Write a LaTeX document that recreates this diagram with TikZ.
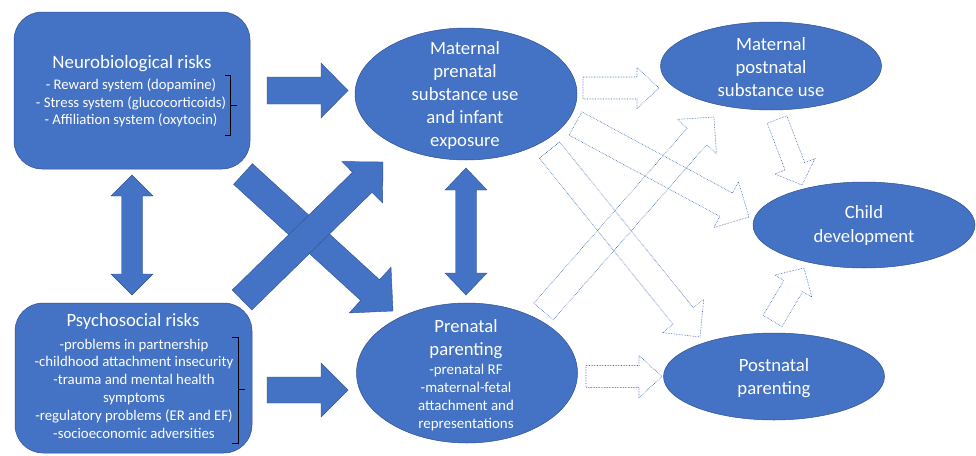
\documentclass[tikz,border=0pt]{standalone}
\usepackage{fontspec}
\setmainfont{Carlito}
\usetikzlibrary{calc,shapes.geometric}
\definecolor{ofblue}{HTML}{4472C4}
\definecolor{ofedge}{HTML}{2F528F}
\definecolor{dotblue}{HTML}{3560AE}
\newcommand{\fsz}[2]{\fontsize{#1}{#2}\selectfont}
% single block arrow: #1 style, #2 tail, #3 tip, #4 half shaft, #5 half head, #6 head length
\newcommand{\blkarrow}[6]{%
  \path ($(#3)!#6pt!(#2)$) coordinate (tmpH);
  \draw[#1] ($(#2)!#4pt!90:(#3)$) -- ($(tmpH)!#4pt!90:(#3)$) -- ($(tmpH)!#5pt!90:(#3)$)
    -- (#3) -- ($(tmpH)!#5pt!-90:(#3)$) -- ($(tmpH)!#4pt!-90:(#3)$) -- ($(#2)!#4pt!-90:(#3)$) -- cycle;}
% double block arrow: #1 style, #2 tip A, #3 tip B, #4 half shaft, #5 half head, #6 head length
\newcommand{\dblarrow}[6]{%
  \path ($(#2)!#6pt!(#3)$) coordinate (tmpHA) ($(#3)!#6pt!(#2)$) coordinate (tmpHB);
  \draw[#1] (#2) -- ($(tmpHA)!#5pt!90:(#3)$) -- ($(tmpHA)!#4pt!90:(#3)$) -- ($(tmpHB)!#4pt!-90:(#2)$)
    -- ($(tmpHB)!#5pt!-90:(#2)$) -- (#3) -- ($(tmpHB)!#5pt!90:(#2)$) -- ($(tmpHB)!#4pt!90:(#2)$)
    -- ($(tmpHA)!#4pt!-90:(#3)$) -- ($(tmpHA)!#5pt!-90:(#3)$) -- cycle;}
\begin{document}
\begin{tikzpicture}[x=1pt,y=-1pt,
  box/.style={draw=ofedge, line width=0.5pt, fill=ofblue, rounded corners=28pt, inner sep=0pt},
  blob/.style={ellipse, draw=ofedge, line width=0.5pt, fill=ofblue, inner sep=0pt},
  txt/.style={text=white, align=center, inner sep=0pt},
  solidarrow/.style={draw=ofedge, line width=0.4pt, fill=ofblue, line join=miter},
  dotarrow/.style={draw=dotblue, line width=0.6pt, densely dotted, line join=miter},
  brk/.style={draw=black, line width=0.7pt}]
\useasboundingbox (0,0) rectangle (976,455);

% boxes
\node[box, minimum width=236pt, minimum height=157pt] (nb) at (132,90.5) {};
\node[box, minimum width=237pt, minimum height=150pt] (ps) at (133.5,378) {};

% ellipses
\node[blob, minimum width=222pt, minimum height=132pt] (mp) at (466,94) {};
\node[blob, minimum width=221pt, minimum height=140pt] (pp) at (467,373) {};
\node[blob, minimum width=221pt, minimum height=88pt] (mpo) at (771,66) {};
\node[blob, minimum width=222pt, minimum height=86pt] (cd) at (864,225) {};
\node[blob, minimum width=221pt, minimum height=87pt] (po) at (774,376.5) {};

% texts
\node[txt, font=\fsz{18.9}{22}] (nbt) at (132,64) {Neurobiological risks};
\node[txt, font=\fsz{14.7}{17.6}] (nbi) at (131,103) {- Reward system (dopamine)\\- Stress system (glucocorticoids)\\- Affiliation system (oxytocin)};
\node[txt, font=\fsz{18.7}{22}] (pst) at (133,322) {Psychosocial risks};
\node[txt, font=\fsz{14.8}{17.8}] (psi) at (134,388.5) {-problems in partnership\\-childhood attachment insecurity\\-trauma and mental health\\symptoms\\-regulatory problems (ER and EF)\\-socioeconomic adversities};
\node[txt, font=\fsz{18.7}{23}] (mpt) at (465,95.5) {Maternal\\prenatal\\substance use\\and infant\\exposure};
\node[txt, font=\fsz{18.7}{23}] (ppt) at (466,339) {Prenatal\\parenting};
\node[txt, font=\fsz{14.9}{18}] (ppi) at (466,398) {-prenatal RF\\-maternal-fetal\\attachment and\\representations};
\node[txt, font=\fsz{18.7}{23}] (mpot) at (771,67.5) {Maternal\\postnatal\\substance use};
\node[txt, font=\fsz{18.7}{24}] (cdt) at (864,226) {Child\\development};
\node[txt, font=\fsz{18.7}{23}] (pot) at (774,378.5) {Postnatal\\parenting};

% brackets
\draw[brk] (225,75) -- (230,75) -- (230,135) -- (225,135);
\draw[brk] (230,105) -- (237,105);
\draw[brk] (232,337) -- (238,337) -- (238,443) -- (232,443);
\draw[brk] (238,389) -- (245,389);

% arrow end coordinates
\coordinate (aT) at (267,90.5);  \coordinate (aH) at (348,90.5);
\coordinate (bT) at (267,390);   \coordinate (bH) at (348,390);
\coordinate (cA) at (132,175);   \coordinate (cB) at (132,295);
\coordinate (dA) at (466,168);   \coordinate (dB) at (466,295);
\coordinate (e1T) at (242,300);  \coordinate (e1H) at (383,162);
\coordinate (e2T) at (243,174);  \coordinate (e2H) at (393,311);
\coordinate (fT) at (583,88);    \coordinate (fH) at (659,88);
\coordinate (gT) at (586,376.5); \coordinate (gH) at (662,376.5);
\coordinate (h1T) at (575.5,123.5); \coordinate (h1H) at (749,217);
\coordinate (h2T) at (549.5,150);   \coordinate (h2H) at (700,337);
\coordinate (h3T) at (543.5,311.5); \coordinate (h3H) at (714,117);
\coordinate (h4T) at (777,119.5);   \coordinate (h4H) at (802,185);
\coordinate (h5T) at (772.5,321);   \coordinate (h5H) at (804,268);

% solid block arrows
\blkarrow{solidarrow}{aT}{aH}{13.5}{27.5}{27}
\blkarrow{solidarrow}{bT}{bH}{13}{27}{27}
\dblarrow{solidarrow}{cA}{cB}{10.5}{21}{21}
\dblarrow{solidarrow}{dA}{dB}{10.5}{21}{22}
\blkarrow{solidarrow}{e2T}{e2H}{14}{31}{31}
\blkarrow{solidarrow}{e1T}{e1H}{14}{29}{29}

% dotted outline arrows
\blkarrow{dotarrow}{fT}{fH}{11}{20.5}{22}
\blkarrow{dotarrow}{gT}{gH}{11}{21}{23}
\blkarrow{dotarrow}{h1T}{h1H}{13.3}{26}{26}
\blkarrow{dotarrow}{h2T}{h2H}{13}{26.5}{27}
\blkarrow{dotarrow}{h3T}{h3H}{12.8}{26}{26}
\blkarrow{dotarrow}{h4T}{h4H}{10.5}{21.5}{20}
\blkarrow{dotarrow}{h5T}{h5H}{11}{21.5}{21}
\end{tikzpicture}
\end{document}
